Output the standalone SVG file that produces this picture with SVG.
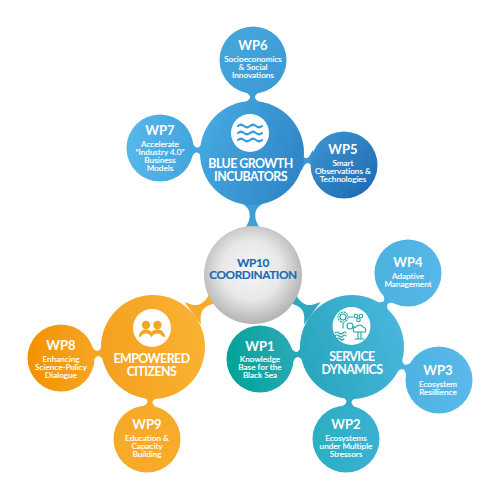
<svg xmlns="http://www.w3.org/2000/svg" width="500" height="500" viewBox="0 0 500 500">
<style>
text{font-family:Lato,"Noto Sans","Liberation Sans",sans-serif;fill:#fff;text-anchor:middle}
.h{font-size:13px;font-weight:700}
.b{font-size:8.200px;font-weight:400;stroke:#fff;stroke-width:.18px}
.t{font-size:12.400px;font-weight:700;letter-spacing:-.55px}
.c{font-size:11.800px;font-weight:700;fill:#1b6ab3;letter-spacing:-.4px;stroke:#1b6ab3;stroke-width:.15px}
.l{fill:none;stroke-linecap:round;stroke-linejoin:round}
</style>
<defs>
<linearGradient id="gBlue" x1="0" y1="0.3" x2="1" y2="0.7"><stop offset="0" stop-color="#45a9e0"/><stop offset="1" stop-color="#2f84c6"/></linearGradient>
<linearGradient id="g6" x1="0" y1="0" x2="1" y2="1"><stop offset="0" stop-color="#46a8de"/><stop offset="1" stop-color="#3b98d4"/></linearGradient>
<linearGradient id="g7" x1="0" y1="0" x2="1" y2="0"><stop offset="0" stop-color="#56b7ea"/><stop offset="1" stop-color="#43a5de"/></linearGradient>
<linearGradient id="g5" x1="0" y1="0" x2="1" y2="1"><stop offset="0" stop-color="#3e96d3"/><stop offset="1" stop-color="#1b68b0"/></linearGradient>
<linearGradient id="gOr" x1="0" y1="0.5" x2="1" y2="0.3"><stop offset="0" stop-color="#f5a11f"/><stop offset="1" stop-color="#f9b233"/></linearGradient>
<linearGradient id="g8" x1="0" y1="0.5" x2="1" y2="0.5"><stop offset="0" stop-color="#f39200"/><stop offset="1" stop-color="#f6a524"/></linearGradient>
<linearGradient id="g9" x1="0" y1="0" x2="1" y2="1"><stop offset="0" stop-color="#f7a827"/><stop offset="1" stop-color="#f8ac2c"/></linearGradient>
<linearGradient id="gTe" x1="0" y1="0.7" x2="1" y2="0.3"><stop offset="0" stop-color="#27a6bc"/><stop offset="1" stop-color="#4ab6de"/></linearGradient>
<linearGradient id="g1" x1="0" y1="0.6" x2="1" y2="0.4"><stop offset="0" stop-color="#00a398"/><stop offset="1" stop-color="#2aa8b4"/></linearGradient>
<linearGradient id="g2" x1="0" y1="0.5" x2="1" y2="0.5"><stop offset="0" stop-color="#2bafc4"/><stop offset="1" stop-color="#3bb0d2"/></linearGradient>
<linearGradient id="g3" x1="0" y1="0.5" x2="1" y2="0.5"><stop offset="0" stop-color="#4db3e2"/><stop offset="1" stop-color="#5ab9ea"/></linearGradient>
<linearGradient id="g4" x1="0" y1="0.5" x2="1" y2="0.5"><stop offset="0" stop-color="#4bb2de"/><stop offset="1" stop-color="#55b8e8"/></linearGradient>
<radialGradient id="gC" cx="0.48" cy="0.45" r="0.55"><stop offset="0" stop-color="#f6f6f6"/><stop offset="0.55" stop-color="#e8e8e8"/><stop offset="1" stop-color="#b3b3b3"/></radialGradient>
<path id="ns" d="M-7,-10 C-4,-5 -2,-2.500 0,-2.500 C2,-2.500 4,-5 7,-10 L7,10 C4,5 2,2.500 0,2.500 C-2,2.500 -4,5 -7,10Z"/>
<path id="nl" d="M-13,-7 C-7,-4 -5,-2.800 0,-2.800 C6,-2.800 9,-6 14,-14 L14,14 C9,6 6,2.800 0,2.800 C-5,2.800 -7,4 -13,7Z"/>
</defs>
<g id="connectors">
<use href="#ns" fill="#3f9fd8" transform="translate(252.500,97) rotate(90)"/>
<use href="#ns" fill="#44a5de" transform="translate(197,150) rotate(3)"/>
<use href="#ns" fill="#3d96d3" transform="translate(307,160.500) rotate(-7.500)"/>
<use href="#nl" fill="#3f9ed8" transform="translate(252.500,215) rotate(-90)"/>
<use href="#nl" fill="#f7ab2a" transform="translate(204,305) rotate(144)"/>
<use href="#nl" fill="#2ea8c0" transform="translate(301,305) rotate(36)"/>
<use href="#ns" fill="#46b1dc" transform="translate(385.700,302.600) rotate(-53)"/>
<use href="#ns" fill="#4ab2dc" transform="translate(404,367) rotate(21)"/>
<use href="#ns" fill="#2fabc4" transform="translate(349,402) rotate(94)"/>
<use href="#ns" fill="#28a8b4" transform="translate(297,354.500) rotate(-8)"/>
<use href="#ns" fill="#f6a524" transform="translate(97.800,353.500) rotate(-6)"/>
<use href="#ns" fill="#f7a827" transform="translate(150,402) rotate(94)"/>
</g>
<g id="wp6"><circle cx="253" cy="60" r="33.500" fill="url(#g6)"/>
<text class="h" x="253" y="50">WP6</text><text class="b" x="253" y="62">Socioeconomics</text><text class="b" x="253" y="70">&amp; Social</text><text class="b" x="253" y="78">Innovations</text></g>
<g id="wp7"><circle cx="160" cy="148" r="33.500" fill="url(#g7)"/>
<text class="h" x="160" y="135">WP7</text><text class="b" x="160" y="147">Accelerate</text><text class="b" x="160" y="155">“Industry 4.0”</text><text class="b" x="160" y="163">Business</text><text class="b" x="160" y="171">Models</text></g>
<g id="wp5"><circle cx="344" cy="165" r="33.500" fill="url(#g5)"/>
<text class="h" x="343" y="154">WP5</text><text class="b" x="343" y="166">Smart</text><text class="b" x="343" y="174">Observations &amp;</text><text class="b" x="343" y="182">Technologies</text></g>
<g id="blue"><circle cx="252" cy="153" r="52" fill="url(#gBlue)"/>
<circle cx="250" cy="133" r="19" fill="#fff"/>
<g class="l" stroke="#3d9bd8" stroke-width="2.200"><path d="M238,126q3,-2.500 6,0t6,0t6,0t6,0"/><path d="M238,133q3,-2.500 6,0t6,0t6,0t6,0"/><path d="M238,140q3,-2.500 6,0t6,0t6,0t6,0"/></g>
<text class="t" x="250.500" y="168">BLUE GROWTH</text><text class="t" x="250.500" y="181">INCUBATORS</text></g>
<g id="wp8"><circle cx="61" cy="358" r="33.500" fill="url(#g8)"/>
<text class="h" x="61" y="350">WP8</text><text class="b" x="61" y="362">Enhancing</text><text class="b" x="61" y="370">Science-Policy</text><text class="b" x="61" y="378">Dialogue</text></g>
<g id="wp9"><circle cx="147" cy="439" r="33.500" fill="url(#g9)"/>
<text class="h" x="147" y="429">WP9</text><text class="b" x="147" y="441">Education &amp;</text><text class="b" x="147" y="449">Capacity</text><text class="b" x="147" y="457">Building</text></g>
<g id="orange"><circle cx="153" cy="347" r="52" fill="url(#gOr)"/>
<circle cx="152" cy="328" r="19" fill="#fff"/>
<g fill="#f6a524"><circle cx="146" cy="325" r="4.200"/><circle cx="157.500" cy="325" r="4.200"/><path d="M139,337c0,-5 3,-7.500 7,-7.500c2,0 4,.5 5.500,2.500c1.500,-2 3.500,-2.500 6,-2.500c4,0 7,2.500 8,7.500l-3,-.5c-1,-2 -3,-3 -5,-3c-3,0 -5,1.500 -6,4c-1,-2.500 -3,-4 -6,-4c-2,0 -3.500,1 -4.500,3z"/></g>
<text class="t" x="151.500" y="363">EMPOWERED</text><text class="t" x="151.500" y="376">CITIZENS</text></g>
<g id="wp1"><circle cx="260" cy="359" r="33.500" fill="url(#g1)"/>
<text class="h" x="260" y="351">WP1</text><text class="b" x="260" y="362">Knowledge</text><text class="b" x="260" y="370">Base for the</text><text class="b" x="260" y="378">Black Sea</text></g>
<g id="wp2"><circle cx="346" cy="439" r="33.500" fill="url(#g2)"/>
<text class="h" x="346" y="429">WP2</text><text class="b" x="346" y="441">Ecosystems</text><text class="b" x="346" y="449">under Multiple</text><text class="b" x="346" y="457">Stressors</text></g>
<g id="wp3"><circle cx="439" cy="380" r="33.500" fill="url(#g3)"/>
<text class="h" x="438" y="375">WP3</text><text class="b" x="438" y="387">Ecosystem</text><text class="b" x="438" y="395">Resillience</text></g>
<g id="wp4"><circle cx="408" cy="273" r="33.500" fill="url(#g4)"/>
<text class="h" x="408" y="267">WP4</text><text class="b" x="408" y="279">Adaptive</text><text class="b" x="408" y="287">Management</text></g>
<g id="teal"><circle cx="352" cy="347" r="52" fill="url(#gTe)"/>
<circle cx="351.500" cy="326" r="19" fill="#fff"/>
<g class="l" stroke="#1ba5a5" stroke-width="1.100"><circle cx="343" cy="317" r="3"/><circle cx="343" cy="317" r="5" stroke-dasharray="1.500 1.500"/><circle cx="356" cy="316" r="1.800"/><circle cx="361" cy="316" r="1.800"/><circle cx="358.500" cy="320" r="1.800"/><circle cx="350" cy="326" r="3"/><path d="M349,317h4M343,323v5M353,327h3M354,332a3,3 0 0 1 2,-5a4,4 0 0 1 7,0a3,3 0 0 1 2,5zM358,332v6M361,332v6M355,339h9M335,333q2,-2 4,0t4,0t3,0M335,336q2,-2 4,0t4,0t3,0M336,339q2,-2 4,0t4,0"/></g>
<text class="t" x="352" y="361">SERVICE</text><text class="t" x="352" y="374">DYNAMICS</text></g>
<g id="wp10"><circle cx="253" cy="275" r="49" fill="url(#gC)"/>
<text class="c" x="253" y="266.500">WP10</text><text class="c" x="253" y="279">COORDINATION</text></g>
</svg>
